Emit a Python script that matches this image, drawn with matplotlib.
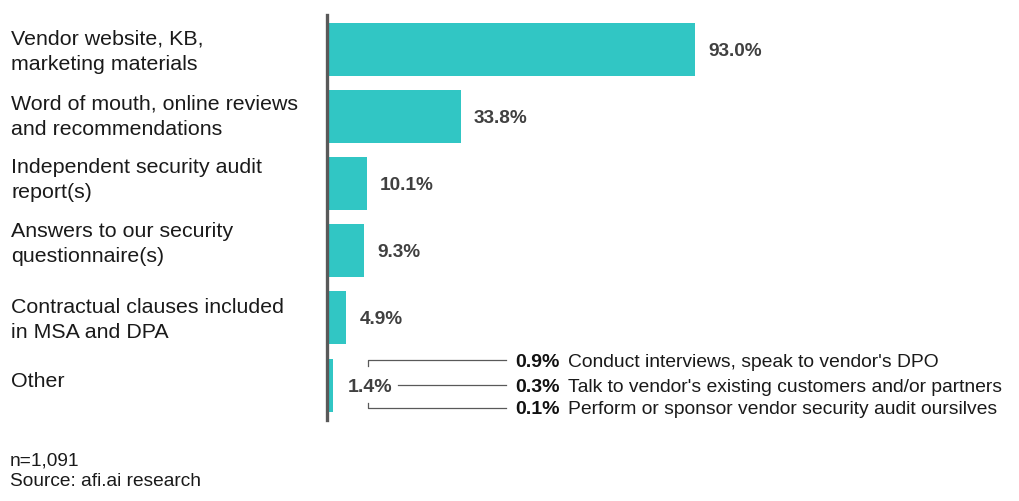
import matplotlib
matplotlib.use("Agg")
import matplotlib.pyplot as plt

plt.rcParams["font.family"] = ["Liberation Sans", "DejaVu Sans"]

categories = [
    "Vendor website, KB,\nmarketing materials",
    "Word of mouth, online reviews\nand recommendations",
    "Independent security audit\nreport(s)",
    "Answers to our security\nquestionnaire(s)",
    "Contractual clauses included\nin MSA and DPA",
    "Other",
]
values = [93.0, 33.8, 10.1, 9.3, 4.9, 1.4]

other_values = [0.9, 0.3, 0.1]
other_labels = [
    "Conduct interviews, speak to vendor's DPO",
    "Talk to vendor's existing customers and/or partners",
    "Perform or sponsor vendor security audit oursilves",
]

BAR = "#31C6C4"
SPINE = "#595959"
VAL = "#404040"
TXT = "#1a1a1a"
PX_X = 3.95   # pixels per percent
PX_Y = 67.2   # pixels per row
NUDGE = 2 / PX_Y  # va="center" sits a bit high for digits

# small per-row nudges of the left labels (pixels, + is down)
label_dy = [2.5, 0, -3.5, -7, 2, -3.5]

fig = plt.figure(figsize=(10.19, 5.01), dpi=100)
ax = fig.add_axes([327 / 1019, 81 / 501, 673 / 1019, 405 / 501])

ys = list(range(len(categories)))
ax.barh(ys, values, height=0.79, color=BAR, left=0)
ax.set_xlim(0, 170)
ax.set_ylim(len(categories) - 0.48, -0.51)

for s in ("top", "right", "bottom"):
    ax.spines[s].set_visible(False)
ax.spines["left"].set_color(SPINE)
ax.spines["left"].set_linewidth(2.4)
ax.set_xticks([])
ax.set_yticks([])

for y, cat, d in zip(ys, categories, label_dy):
    ax.text(-315 / PX_X, y + d / PX_Y, cat, ha="left", va="center",
            fontsize=15.4, color=TXT, linespacing=1.42, clip_on=False)

for y, v in zip(ys[:-1], values[:-1]):
    ax.text(v + 3.3, y + NUDGE, f"{v:.1f}%", ha="left", va="center",
            fontsize=13.7, fontweight="bold", color=VAL)

# "Other" row with its breakdown
y_o = ys[-1]
ax.text(values[-1] + 3.9, y_o + NUDGE, f"{values[-1]:.1f}%", ha="left",
        va="center", fontsize=14, fontweight="bold", color=VAL)

x_br, x_mid, x_end = 10.4, 18.0, 45.1
dy_top, dy_bot = -0.37, 0.34
line_kw = dict(color=SPINE, lw=0.9, clip_on=False)
ax.plot([x_br, x_br, x_end], [y_o - 0.28, y_o + dy_top, y_o + dy_top], **line_kw)
ax.plot([x_mid, x_end], [y_o, y_o], **line_kw)
ax.plot([x_br, x_br, x_end], [y_o + 0.26, y_o + dy_bot, y_o + dy_bot], **line_kw)

for dy, v, lab in zip([dy_top, 0, dy_bot], other_values, other_labels):
    ax.text(47.6, y_o + dy + NUDGE, f"{v:.1f}%", ha="left", va="center",
            fontsize=14, fontweight="bold", color="#111111", clip_on=False)
    ax.text(61.0, y_o + dy + NUDGE, lab, ha="left", va="center",
            fontsize=13.9, color=TXT, clip_on=False)

fig.text(10 / 1019, 1 - 461.5 / 501, "n=1,091", ha="left", va="center",
         fontsize=13.8, color=TXT)
fig.text(10 / 1019, 1 - 482 / 501, "Source: afi.ai research", ha="left",
         va="center", fontsize=13.8, color=TXT)

fig.savefig("out.png", dpi=100)
